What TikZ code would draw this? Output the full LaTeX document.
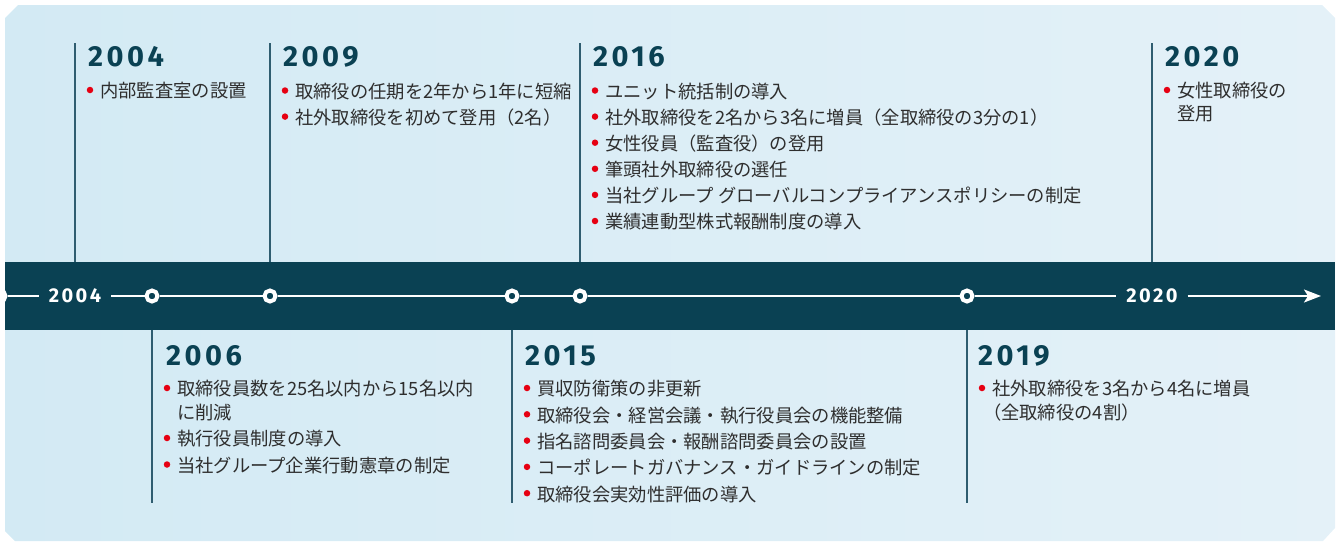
\documentclass[tikz,border=0pt]{standalone}
\usepackage{fontspec}
\setmainfont{Noto Sans CJK JP}
\newfontfamily\yearfont[LetterSpace=12]{Fira Sans}
\usetikzlibrary{arrows.meta}
\definecolor{navy}{HTML}{0A4153}
\definecolor{bgleft}{HTML}{D3EAF4}
\definecolor{bgright}{HTML}{E4F1F8}
\definecolor{vlinec}{HTML}{2F5D70}
\definecolor{bred}{HTML}{E60012}
\definecolor{txt}{HTML}{2E2E2E}
\newcommand\evitem[4]{%
  \node[bulletdot] (#1b) at (#2+15,#3) {};
  \node[itemtext] (#1) at (#2+25,#3) {#4};}
\newcommand\evcont[4]{%
  \node[itemtext] (#1) at (#2+25,#3) {#4};}
\begin{document}
\begin{tikzpicture}[x=1pt,y=-1pt,
  yearlabel/.style={anchor=west, inner sep=0, text=navy, font=\yearfont\bfseries\fontsize{29}{29}\selectfont},
  itemtext/.style={anchor=west, inner sep=0, yshift=-4pt, text=txt, text height=0.88em, text depth=0.12em, font=\fontsize{18.3}{24}\selectfont},
  bulletdot/.style={circle, fill=bred, inner sep=0, minimum size=6.5},
  evline/.style={vlinec, line width=1.5},
  tickmark/.style={circle, draw=white, line width=4, fill=navy, minimum size=11, inner sep=0},
  bandyear/.style={text=white, inner xsep=10, inner ysep=0, font=\yearfont\bfseries\fontsize{20}{20}\selectfont},
  axisline/.style={white, line width=2}]
\useasboundingbox (0,0) rectangle (1339,544);
% panel
\shade[left color=bgleft, right color=bgright]
  (18,5) -- (1322,5) -- (1335,18) -- (1335,528) -- (1323,541) -- (15,541) -- (5,531) -- (5,18) -- cycle;
% band
\node[fill=navy, minimum width=1330, minimum height=68, inner sep=0, anchor=north west] (band) at (5,262) {};
% event lines
\coordinate (t2004) at (75,43);
\coordinate (t2009) at (270,43);
\coordinate (t2016) at (580,43);
\coordinate (t2020) at (1152,43);
\coordinate (u2006) at (152,503);
\coordinate (u2015) at (512,503);
\coordinate (u2019) at (967,503);
\foreach \p in {t2004,t2009,t2016,t2020}
  \draw[evline] (\p) -- (\p |- band.north);
\foreach \p in {u2006,u2015,u2019}
  \draw[evline] (\p |- band.south) -- (\p);
% axis
\begin{scope}
  \clip (5,262) rectangle (1335,330);
  \node[tickmark] (c0) at (0,296) {};
\end{scope}
\node[bandyear] (b2004) at (75,296) {2004};
\node[bandyear] (b2020) at (1152,296) {2020};
\node[tickmark] (c2006) at (152,296) {};
\node[tickmark] (c2009) at (270,296) {};
\node[tickmark] (c2015) at (512,296) {};
\node[tickmark] (c2016) at (580,296) {};
\node[tickmark] (c2019) at (967,296) {};
\coordinate (tip) at (1321,296);
\draw[axisline] (c0) -- (b2004);
\draw[axisline] (b2004) -- (c2006);
\draw[axisline] (c2006) -- (c2009);
\draw[axisline] (c2009) -- (c2015);
\draw[axisline] (c2015) -- (c2016);
\draw[axisline] (c2016) -- (c2019);
\draw[axisline] (c2019) -- (b2020);
\draw[axisline, -{Stealth[length=17, width=13, inset=4]}] (b2020) -- (tip);
% 2004
\node[yearlabel] (y2004) at (88,57) {2004};
\evitem{a1}{75}{90}{内部監査室の設置}
% 2009
\node[yearlabel] (y2009) at (283,57) {2009};
\evitem{b1}{270}{90.5}{取締役の任期を2年から1年に短縮}
\evitem{b2}{270}{116.6}{社外取締役を初めて登用（2名）}
% 2016
\node[yearlabel] (y2016) at (593,57) {2016};
\evitem{c1}{580}{90.5}{ユニット統括制の導入}
\evitem{c2}{580}{116.6}{社外取締役を2名から3名に増員（全取締役の3分の1）}
\evitem{c3}{580}{142.7}{女性役員（監査役）の登用}
\evitem{c4}{580}{168.8}{筆頭社外取締役の選任}
\evitem{c5}{580}{194.9}{当社グループ グローバルコンプライアンスポリシーの制定}
\evitem{c6}{580}{221}{業績連動型株式報酬制度の導入}
% 2020
\node[yearlabel] (y2020) at (1165,57) {2020};
\evitem{d1}{1152}{90}{女性取締役の}
\evcont{d1x}{1152}{113}{登用}
% 2006
\node[yearlabel] (y2006) at (166,356) {2006};
\evitem{e1}{152}{388}{取締役員数を25名以内から15名以内}
\evcont{e1x}{152}{412}{に削減}
\evitem{e2}{152}{438}{執行役員制度の導入}
\evitem{e3}{152}{464.5}{当社グループ企業行動憲章の制定}
% 2015
\node[yearlabel] (y2015) at (525,356) {2015};
\evitem{f1}{512}{388}{買収防衛策の非更新}
\evitem{f2}{512}{414.3}{取締役会・経営会議・執行役員会の機能整備}
\evitem{f3}{512}{440.6}{指名諮問委員会・報酬諮問委員会の設置}
\evitem{f4}{512}{466.9}{コーポレートガバナンス・ガイドラインの制定}
\evitem{f5}{512}{493.2}{取締役会実効性評価の導入}
% 2019
\node[yearlabel] (y2019) at (978,356) {2019};
\evitem{g1}{967}{388}{社外取締役を3名から4名に増員}
\evcont{g1x}{967}{412}{\kern-0.5em（全取締役の4割）}
\end{tikzpicture}
\end{document}
